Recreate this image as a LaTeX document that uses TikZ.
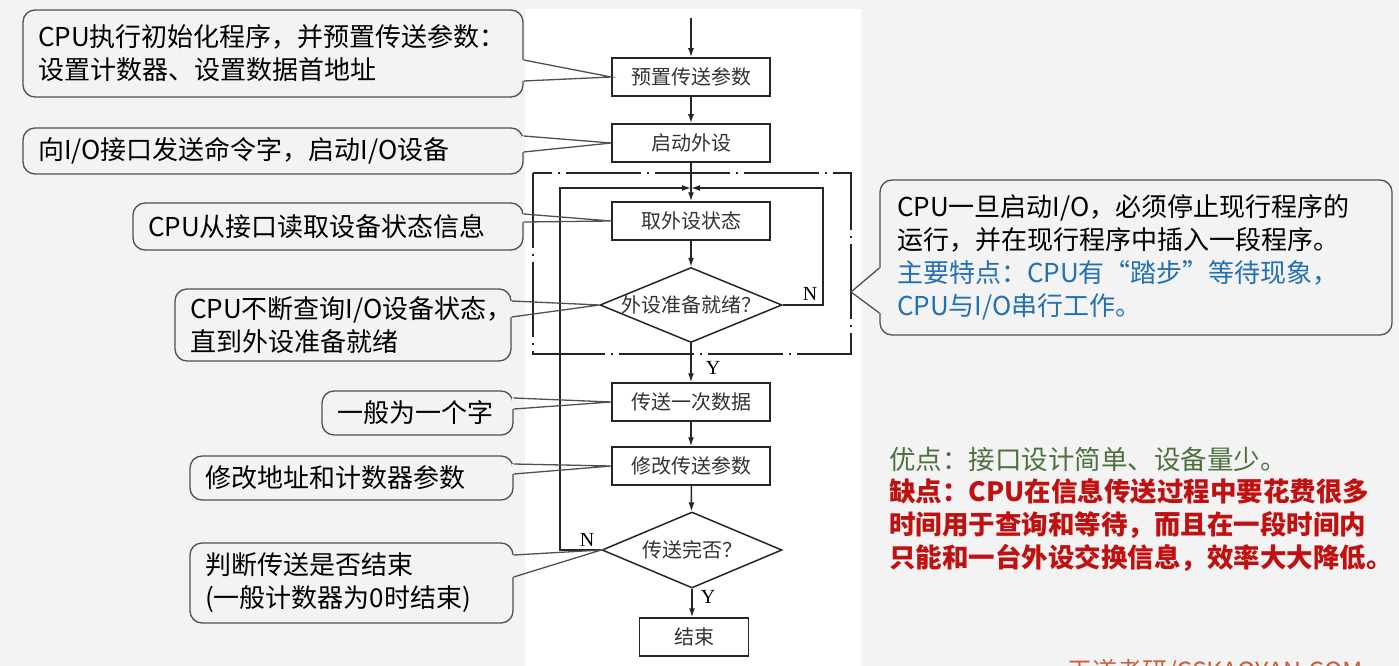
\documentclass[tikz,border=0pt]{standalone}
\usepackage{fontspec}
\setmainfont{Noto Sans CJK SC}
\newfontfamily\yntimes{Liberation Serif}
\usetikzlibrary{shapes.geometric,arrows.meta}

\definecolor{slidebg}{HTML}{F3F3F3}
\definecolor{notegray}{HTML}{505050}
\definecolor{featblue}{RGB}{35,112,178}
\definecolor{prosgreen}{RGB}{78,112,62}
\definecolor{consred}{RGB}{192,16,16}
\definecolor{markorange}{RGB}{200,92,58}

\tikzset{
  flow/.style={line width=1.5pt,draw=black!85,-{Latex[length=9pt,width=6pt]}},
  stepbox/.style={draw=black!85,line width=1.5pt,minimum width=158pt,minimum height=38pt,inner sep=0pt,text=black!80,font=\fontsize{20}{24}\selectfont},
  testbox/.style={diamond,draw=black!85,line width=1.5pt,minimum width=182pt,minimum height=75pt,inner sep=0pt,text=black!80,font=\fontsize{20}{24}\selectfont},
  notebox/.style={draw=notegray,line width=1.3pt,rounded corners=12pt,align=left,inner xsep=15pt,inner ysep=0pt,font=\fontsize{26}{33}\selectfont},
  notetip/.style={draw=notegray,line width=1.3pt},
  yn/.style={font=\yntimes\fontsize{20}{20}\selectfont,inner sep=0pt}
}

\begin{document}
\begin{tikzpicture}[x=1pt,y=-1pt]
    % Slide background
    \fill[slidebg] (0,0) rectangle (1399,666);
    \fill[white] (525,9) rectangle (861,666);
    \useasboundingbox (0,0) rectangle (1399,666);

    % Flow steps
    \coordinate (entry) at (691,18);
    \node[stepbox] (preset) at (691,77) {预置传送参数};
    \node[stepbox] (start) at (691,143) {启动外设};
    \node[stepbox] (status) at (691,221) {取外设状态};
    \node[testbox] (ready) at (691,305) {\makebox[0pt]{外设准备就绪？}};
    \node[stepbox] (transfer) at (691,402) {传送一次数据};
    \node[stepbox] (update) at (691,466) {修改传送参数};
    \node[testbox,minimum width=180pt,minimum height=76pt] (done) at (692,550) {\makebox[0pt]{传送完否？}};
    \node[stepbox,minimum width=109pt] (finish) at (694,637) {结束};
    \coordinate (join) at (691,188);
    \coordinate (loopside) at (851,292);

    % Polling loop frame
    \draw[line width=1.3pt,draw=black!85,dash pattern=on 75pt off 6pt on 2pt off 6pt] (533,173) rectangle (851,354);

    % Branch labels
    \node[yn] (readyno) at (810,294) {N};
    \node[yn] (readyyes) at (713,368) {Y};
    \node[yn] (doneno) at (587,540) {N};
    \node[yn] (doneyes) at (708,597) {Y};

    % Connectors
    \draw[flow] (entry) -- (preset);
    \draw[flow] (preset) -- (start);
    \draw[flow] (start) -- (status);
    \draw[flow] (status) -- (ready);
    \draw[flow] (ready) -- (transfer);
    \draw[flow] (transfer) -- (update);
    \draw[flow] (update) -- (done);
    \draw[flow] (done.south) -- (done.south |- finish.north);
    \draw[flow] (ready.east) -- (823,305) |- (join);
    \draw[flow] (done.west) -- (560,550) |- (join);

    % Notes on the left
    \node[notebox,text width=470pt,minimum height=87pt] (initnote) at (273,53.5) {CPU执行初始化程序，并预置传送参数：\\设置计数器、设置数据首地址};
    \node[notebox,text width=470pt,minimum height=46pt] (startnote) at (273,151) {向I/O接口发送命令字，启动I/O设备};
    \node[notebox,text width=360pt,minimum height=47pt] (statusnote) at (328,226.5) {CPU从接口读取设备状态信息};
    \node[notebox,text width=306pt,minimum height=72pt] (pollnote) at (343,325) {CPU不断查询I/O设备状态，\\直到外设准备就绪};
    \node[notebox,text width=161pt,minimum height=44pt] (wordnote) at (417.5,413) {一般为一个字};
    \node[notebox,text width=293pt,minimum height=44pt] (addrnote) at (351.5,478) {修改地址和计数器参数};
    \node[notebox,text width=293pt,minimum height=80pt] (endnote) at (351.5,583) {判断传送是否结束\\(一般计数器为0时结束)};

    \foreach \note/\ya/\yb/\goal in {initnote/60/81/preset, startnote/136/152/start, statusnote/214/222/status, pollnote/301/317/ready, wordnote/398/409/transfer, addrnote/464/474/update, endnote/555/577/done} {
      \draw[slidebg,line width=3pt] (\note.east |- 0,\ya) -- (\note.east |- 0,\yb);
      \draw[notetip] (\note.east |- 0,\ya) -- (\goal.west) -- (\note.east |- 0,\yb);
    }

    % Note on the right
    \node[notebox,inner xsep=17pt,text width=478pt,minimum height=155pt] (featnote) at (1136,257.5) {CPU一旦启动I/O，必须停止现行程序的\\运行，并在现行程序中插入一段程序。\\\textcolor{featblue}{主要特点：CPU有“踏步”等待现象，}\\\textcolor{featblue}{CPU与I/O串行工作。}};
    \draw[slidebg,line width=3pt] (featnote.west |- 0,268) -- (featnote.west |- 0,313);
    \draw[notetip] (featnote.west |- 0,268) -- (loopside) -- (featnote.west |- 0,313);

    % Pros and cons
    \node[anchor=west,inner sep=0pt,align=left,font=\fontsize{26.5}{32.7}\selectfont] (procon) at (889,509) {\textcolor{prosgreen}{优点：接口设计简单、设备量少。}\\\textcolor{consred}{\bfseries 缺点：CPU在信息传送过程中要花费很多}\\\textcolor{consred}{\bfseries 时间用于查询和等待，而且在一段时间内}\\\textcolor{consred}{\bfseries 只能和一台外设交换信息，效率大大降低。}};

    \node[anchor=base west,inner sep=0pt,text=markorange,font=\fontsize{25}{25}\selectfont] (mark) at (1067,680) {王道考研/CSKAOYAN.COM};
\end{tikzpicture}
\end{document}
